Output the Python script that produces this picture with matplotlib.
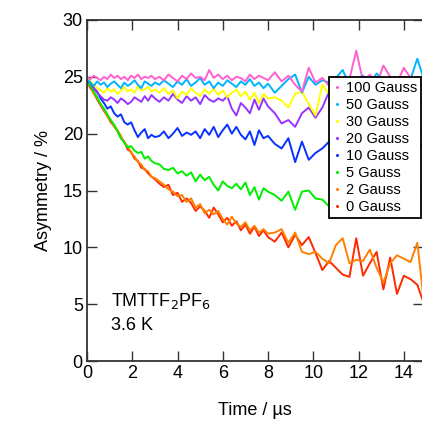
import matplotlib
matplotlib.use("Agg")
import matplotlib.pyplot as plt
from matplotlib.lines import Line2D

plt.rcParams['font.family'] = ['Liberation Sans', 'DejaVu Sans']

time_us = [0.0, 0.15, 0.3, 0.45, 0.6, 0.75, 0.9, 1.05, 1.2, 1.35, 1.5, 1.65, 1.8, 1.95, 2.1, 2.25, 2.4, 2.55, 2.7, 2.85, 3.0,
           3.2, 3.4, 3.6, 3.8, 4.0, 4.2, 4.4, 4.6, 4.8, 5.0, 5.2, 5.4, 5.6, 5.8, 6.0, 6.2, 6.4, 6.6, 6.8, 7.0, 7.2, 7.4, 7.6, 7.8, 8.0,
           8.3, 8.6, 8.9, 9.2, 9.5, 9.8, 10.1, 10.4, 10.7, 11.0, 11.3, 11.6, 11.9, 12.2, 12.5, 12.8, 13.1, 13.4, 13.7, 14.0, 14.3, 14.6, 14.9]

g100 = [25.0, 24.8, 25.1, 24.9, 24.7, 25.0, 24.8, 25.2, 24.9, 25.1, 24.8, 25.0, 24.7, 25.1, 24.9, 25.2, 24.8, 25.0, 24.9, 25.1, 24.8,
        25.0, 24.7, 25.2, 24.9, 24.6, 25.1, 24.8, 25.3, 24.9, 25.0, 24.7, 25.6, 24.9, 25.2, 24.8, 25.1, 24.7, 25.0, 24.9, 24.6, 25.2, 24.8, 25.1, 24.9, 24.7,
        25.4, 24.6, 25.1, 24.3, 23.7, 25.8, 24.5, 24.9, 24.2, 25.0, 24.6, 24.8, 27.3, 24.6, 25.2, 24.3, 26.0, 25.0, 24.4, 25.8, 24.9, 24.5, 24.1]
g50 = [24.8, 24.5, 24.2, 24.6, 24.3, 24.5, 24.1, 24.4, 24.6, 24.3, 24.0, 24.5, 24.2, 24.4, 24.7, 24.3, 24.0, 24.6, 24.4, 24.2, 24.5,
       24.3, 24.7, 24.4, 24.1, 24.6, 24.3, 24.8, 24.2, 24.5, 24.9, 24.3, 24.6, 24.0, 24.5, 24.2, 24.7, 24.4, 24.1, 24.6, 24.3, 24.8, 24.2, 24.5, 24.0, 24.4,
       23.6, 24.2, 24.8, 25.2, 23.6, 25.0, 24.3, 24.7, 24.5, 24.9, 25.6, 24.3, 24.8, 25.1, 24.4, 25.3, 24.6, 25.0, 24.7, 25.0, 24.8, 26.6, 24.7]
g30 = [24.9, 24.6, 24.3, 24.0, 23.8, 23.6, 24.0, 23.7, 23.9, 23.5, 23.8, 24.1, 23.7, 23.9, 23.6, 24.2, 23.8, 23.9, 24.1, 23.7, 23.9,
       23.6, 24.0, 23.5, 23.8, 23.1, 23.7, 23.4, 24.0, 23.6, 23.3, 23.9, 23.5, 24.0, 23.4, 23.8, 23.2, 23.6, 23.9, 23.3, 23.7, 23.0, 23.6, 22.7, 23.5, 23.1,
       23.2, 22.9, 22.3, 23.5, 23.7, 22.6, 21.6, 24.3, 23.5, 23.2, 24.0, 23.1, 23.6, 23.8, 23.3, 24.1, 23.4, 23.9, 23.5, 24.2, 23.6, 23.8, 24.0]
g20 = [24.8, 24.5, 24.0, 23.6, 23.3, 23.0, 22.9, 23.2, 23.0, 22.7, 23.1, 22.9, 22.6, 22.8, 23.2, 23.0, 22.8, 23.3, 22.9, 23.4, 23.1,
       22.8, 23.2, 22.9, 23.5, 23.0, 22.7, 23.3, 22.9, 23.2, 22.6, 23.4, 23.0, 22.8, 23.1, 22.9, 23.3, 22.2, 21.6, 22.7, 22.3, 21.8, 23.0, 22.1, 23.1, 22.4,
       21.8, 20.9, 21.2, 20.6, 21.8, 22.3, 21.4, 22.3, 23.7, 22.5, 22.0, 22.8, 22.2, 22.9, 22.4, 22.0, 22.7, 22.3, 22.6, 22.0, 21.6, 22.3, 23.0]
g10 = [24.6, 24.5, 24.0, 23.7, 23.1, 22.7, 22.2, 22.4, 21.8, 21.5, 21.7, 21.0, 20.8, 21.0, 20.3, 19.7, 20.1, 20.4, 19.6, 19.9, 19.7,
       19.8, 20.2, 19.6, 20.0, 20.5, 19.8, 20.1, 19.9, 20.2, 19.6, 20.4, 19.9, 20.6, 19.7, 20.3, 20.8, 20.0, 20.6, 19.9, 19.5, 20.2, 19.0, 20.3, 19.6, 19.8,
       19.1, 18.7, 19.6, 17.5, 19.3, 17.7, 18.3, 18.7, 19.3, 18.9, 19.5, 18.6, 19.0, 18.4, 19.2, 18.2, 18.9, 18.5, 19.4, 18.6, 19.0, 18.4, 19.2]
g5 = [24.6, 24.2, 23.7, 23.2, 22.6, 22.2, 21.7, 21.2, 20.8, 20.2, 19.6, 19.2, 18.8, 18.9, 18.5, 18.3, 18.4, 17.8, 18.0, 17.6, 17.4,
      17.3, 16.9, 16.8, 17.0, 16.5, 16.7, 16.3, 16.6, 15.8, 16.4, 15.9, 16.2, 15.5, 15.0, 15.8, 15.4, 15.2, 15.6, 15.1, 15.7, 14.6, 15.3, 14.2, 15.2, 14.9,
      14.6, 14.1, 14.9, 13.3, 14.9, 15.0, 14.3, 14.2, 13.6, 13.4, 13.9, 13.2, 13.7, 13.3, 13.6, 12.7, 13.5, 13.9, 12.8, 13.6, 14.2, 14.6, 15.3]
g2 = [24.5, 24.2, 23.5, 23.1, 22.6, 22.1, 21.5, 21.2, 20.6, 20.3, 19.8, 19.2, 18.9, 18.3, 18.0, 17.5, 17.3, 16.8, 16.7, 16.2, 16.1,
      15.8, 15.5, 15.1, 14.9, 14.5, 14.6, 14.0, 14.3, 13.5, 13.8, 13.0, 13.3, 12.9, 13.2, 12.5, 12.0, 12.7, 12.1, 11.8, 12.2, 11.5, 11.9, 11.3, 11.6, 11.2,
      11.3, 11.6, 10.4, 11.3, 9.6, 9.4, 9.6, 9.0, 8.6, 10.2, 10.8, 8.6, 8.9, 8.8, 9.8, 8.2, 6.9, 8.6, 9.3, 9.0, 8.7, 10.4, 5.0]
g0 = [24.6, 24.0, 23.6, 23.0, 22.5, 22.0, 21.6, 21.0, 20.7, 20.2, 19.6, 19.3, 18.6, 18.4, 17.8, 17.6, 17.0, 16.9, 16.5, 16.2, 16.0,
      15.6, 15.3, 15.5, 14.6, 14.8, 14.0, 14.3, 13.9, 13.2, 13.6, 13.2, 12.6, 13.5, 12.9, 12.2, 12.6, 11.9, 12.3, 11.5, 12.0, 11.2, 11.8, 11.0, 11.5, 10.9,
      10.5, 11.3, 10.0, 11.1, 10.2, 10.9, 9.5, 8.0, 8.8, 8.2, 7.6, 7.4, 10.8, 7.5, 8.6, 9.6, 6.3, 9.1, 5.9, 7.5, 7.2, 6.7, 5.0]

labels = ["100 Gauss", "50 Gauss", "30 Gauss", "20 Gauss", "10 Gauss", "5 Gauss", "2 Gauss", "0 Gauss"]
series = [g100, g50, g30, g20, g10, g5, g2, g0]
colors = ["#ff5fd0", "#00b4ff", "#ffff00", "#9933ff", "#0a32ff", "#00ee00", "#ff8000", "#ff2a00"]

fig = plt.figure(figsize=(4.22, 4.28), dpi=100)
ax = fig.add_axes([87/422, 1-361/428, 336/422, 341/428])

for ys, c in zip(reversed(series), reversed(colors)):
    ax.plot(time_us, ys, color=c, lw=1.4, clip_on=True)

ax.set_xlim(0, 14.85)
ax.set_ylim(0, 30)
ax.set_xticks([0, 2, 4, 6, 8, 10, 12, 14])
ax.set_yticks([0, 5, 10, 15, 20, 25, 30])
ax.tick_params(direction='in', length=7, width=1, top=True, right=True, labelsize=13, pad=3,
               colors='#333333', labelcolor='black')
for s in ax.spines.values():
    s.set_linewidth(1.3)
    s.set_color('#333333')

ax.set_xlabel("Time / µs", fontsize=13, labelpad=14)
ax.set_ylabel("Asymmetry / %", fontsize=13, labelpad=8)

handles = [Line2D([], [], ls='none', marker='o', markersize=1.2, color=c) for c in colors]
leg = ax.legend(handles, labels, loc='upper right', bbox_to_anchor=(0.9945, 0.833),
                fontsize=10.5, frameon=True, fancybox=False, shadow=False,
                handlelength=0.5, handletextpad=0.35, borderpad=0.3, labelspacing=0.2,
                borderaxespad=0.0)
leg.get_frame().set_edgecolor('black')
leg.get_frame().set_linewidth(1.3)
leg.get_frame().set_alpha(1)

ax.text(0.07, 0.16, "TMTTF$_2$PF$_6$", transform=ax.transAxes, fontsize=13)
ax.text(0.07, 0.09, "3.6 K", transform=ax.transAxes, fontsize=13)

fig.savefig("out.png", dpi=100)
